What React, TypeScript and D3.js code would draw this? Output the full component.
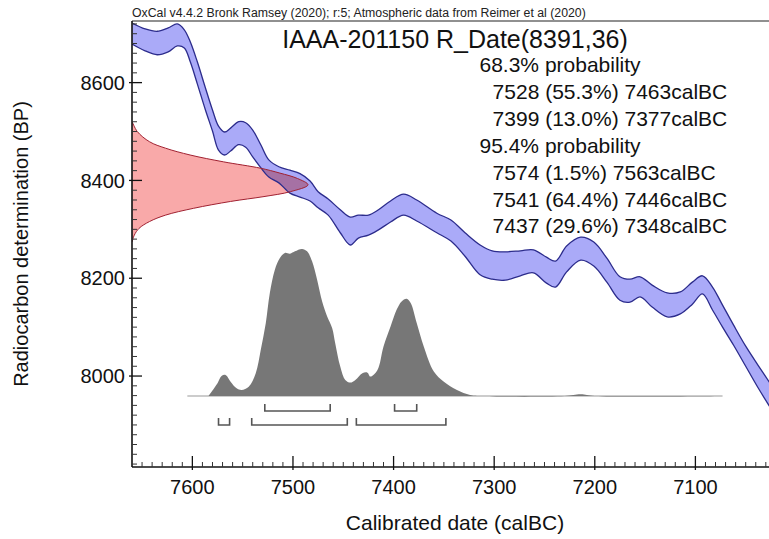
import React from 'react';
import * as d3 from 'd3';

// ---- data ----
const calBC = [7660, 7647, 7635, 7624, 7615, 7608, 7602, 7595, 7587, 7580, 7574, 7568, 7562, 7554, 7547, 7540, 7532, 7524, 7514, 7503, 7493, 7483, 7475, 7465, 7453, 7443, 7435, 7425, 7415, 7403, 7390, 7377, 7357, 7343, 7329, 7314, 7302, 7289, 7274, 7261, 7248, 7239, 7228, 7214, 7201, 7188, 7175, 7165, 7155, 7143, 7128, 7115, 7103, 7093, 7083, 7073, 7062, 7050, 7038, 7026];
const bandUpperBP = [8722, 8710, 8705, 8712, 8720, 8708, 8683, 8642, 8589, 8544, 8511, 8499, 8507, 8520, 8518, 8503, 8473, 8442, 8428, 8421, 8414, 8399, 8377, 8362, 8340, 8325, 8329, 8329, 8340, 8358, 8372, 8360, 8333, 8319, 8293, 8268, 8256, 8254, 8256, 8258, 8243, 8235, 8266, 8284, 8274, 8241, 8203, 8198, 8203, 8186, 8170, 8172, 8192, 8205, 8182, 8145, 8104, 8061, 8023, 7986];
const bandLowerBP = [8679, 8665, 8657, 8663, 8675, 8671, 8642, 8597, 8544, 8501, 8462, 8452, 8460, 8473, 8468, 8448, 8426, 8407, 8395, 8374, 8366, 8358, 8344, 8329, 8293, 8268, 8282, 8288, 8299, 8315, 8329, 8317, 8293, 8276, 8245, 8207, 8198, 8196, 8205, 8211, 8190, 8182, 8213, 8237, 8225, 8192, 8155, 8151, 8162, 8141, 8121, 8127, 8147, 8168, 8135, 8100, 8063, 8020, 7977, 7937];

const likelihoodBP = [8521, 8500, 8479, 8466, 8452, 8438, 8425, 8415, 8404, 8391, 8377, 8367, 8357, 8343, 8329, 8316, 8302, 8288, 8274];
const likelihoodDensity = [0, 0.03, 0.1, 0.19, 0.33, 0.52, 0.73, 0.84, 0.94, 1.0, 0.9, 0.75, 0.56, 0.35, 0.19, 0.1, 0.04, 0.013, 0];

const posteriorCalBC = [7584, 7575, 7571, 7567, 7562, 7556, 7551, 7544, 7537, 7532, 7527, 7523, 7518, 7513, 7508, 7503, 7498, 7491, 7486, 7481, 7476, 7471, 7466, 7461, 7458, 7453, 7448, 7443, 7438, 7431, 7426, 7423, 7416, 7410, 7403, 7397, 7392, 7387, 7383, 7377, 7370, 7360, 7350, 7337, 7324, 7314, 7230, 7214, 7200, 7073];
const posteriorProb = [0, 0.087, 0.136, 0.143, 0.097, 0.052, 0.041, 0.063, 0.155, 0.314, 0.496, 0.7, 0.859, 0.939, 0.973, 0.968, 0.984, 1.0, 0.984, 0.916, 0.791, 0.643, 0.541, 0.461, 0.359, 0.2, 0.109, 0.091, 0.109, 0.155, 0.159, 0.132, 0.177, 0.336, 0.472, 0.586, 0.643, 0.661, 0.632, 0.496, 0.336, 0.166, 0.097, 0.041, 0.007, 0, 0, 0.012, 0, 0];
const posteriorSpan = [7605, 7073];

const range68 = [[7528, 7463], [7399, 7377]];
const range95 = [[7574, 7563], [7541, 7446], [7437, 7348]];

const xMajorTicks = [7600, 7500, 7400, 7300, 7200, 7100];
const yMajorTicks = [8000, 8200, 8400, 8600];

const headerText = 'OxCal v4.4.2 Bronk Ramsey (2020); r:5; Atmospheric data from Reimer et al (2020)';
const titleText = 'IAAA-201150 R_Date(8391,36)';
const summaryLines = [
  '68.3% probability',
  '7528 (55.3%) 7463calBC',
  '7399 (13.0%) 7377calBC',
  '95.4% probability',
  '7574 (1.5%) 7563calBC',
  '7541 (64.4%) 7446calBC',
  '7437 (29.6%) 7348calBC',
];
const summaryIndented = [false, true, true, false, true, true, true];
const xAxisTitle = 'Calibrated date (calBC)';
const yAxisTitle = 'Radiocarbon determination (BP)';

// ---- layout ----
const W = 769;
const H = 539;
const L = 132;
const T = 21;
const B = 467;
const R = 796;
const FONT = '"Liberation Sans", Arial, Helvetica, sans-serif';

export default function App() {
  const x = d3.scaleLinear().domain([7660, 7000]).range([L, R]);
  const y = d3.scaleLinear().domain([7814, 8726]).range([B, T]);
  const yProb = d3.scaleLinear().domain([0, 1]).range([396, 249]);
  const xDens = d3.scaleLinear().domain([0, 1]).range([L, 308]);

  const band = calBC.map((c, i) => ({ c, hi: bandUpperBP[i], lo: bandLowerBP[i] }));
  const curve = d3.curveCatmullRom.alpha(0.5);
  const bandArea = d3
    .area<any>()
    .x((d) => x(d.c))
    .y0((d) => y(d.lo))
    .y1((d) => y(d.hi))
    .curve(curve);
  const upperLine = d3.line<any>().x((d) => x(d.c)).y((d) => y(d.hi)).curve(curve);
  const lowerLine = d3.line<any>().x((d) => x(d.c)).y((d) => y(d.lo)).curve(curve);

  const lik = likelihoodBP.map((b, i) => ({ b, d: likelihoodDensity[i] }));
  const likArea = d3
    .area<any>()
    .y((d) => y(d.b))
    .x0(xDens(0))
    .x1((d) => xDens(d.d))
    .curve(curve);
  const likLine = d3.line<any>().y((d) => y(d.b)).x((d) => xDens(d.d)).curve(curve);

  const post = posteriorCalBC.map((c, i) => ({ c, p: posteriorProb[i] }));
  const postArea = d3
    .area<any>()
    .x((d) => x(d.c))
    .y0(yProb(0))
    .y1((d) => yProb(d.p))
    .curve(d3.curveMonotoneY === undefined ? curve : curve);

  const xMinor = d3.range(7650, 7000, -10).filter((v) => v % 100 !== 0);
  const yMinor = d3.range(7820, 8726, 20).filter((v) => v % 200 !== 0);

  const bracket = (r: number[], yy: number, key: string) => {
    const x0 = x(r[0]);
    const x1 = x(r[1]);
    return (
      <path
        key={key}
        d={`M${x0},${yy - 7}V${yy}H${x1}V${yy - 7}`}
        fill="none"
        stroke="#555"
        strokeWidth={1.6}
      />
    );
  };

  return (
    <svg
      width={W}
      height={H}
      viewBox={`0 0 ${W} ${H}`}
      style={{ position: 'absolute', left: 0, top: 0, background: '#fff' }}
      fontFamily={FONT}
    >
      <defs>
        <clipPath id="plot">
          <rect x={L} y={T} width={R - L} height={B - T} />
        </clipPath>
      </defs>

      {/* header */}
      <text x={L} y={17} fontSize={12.3} fill="#222">
        {headerText}
      </text>

      <g clipPath="url(#plot)">
        {/* posterior */}
        <line
          x1={x(posteriorSpan[0])}
          x2={x(posteriorSpan[1])}
          y1={yProb(0)}
          y2={yProb(0)}
          stroke="#9a9a9a"
          strokeWidth={1.2}
        />
        <path d={postArea(post) || ''} fill="#777" />

        {/* likelihood */}
        <path d={likArea(lik) || ''} fill="#f9a9a9" />

        {/* calibration band */}
        <path d={bandArea(band) || ''} fill="#aaaaf8" style={{ mixBlendMode: 'multiply' }} />
        <path d={upperLine(band) || ''} fill="none" stroke="#2c2c8c" strokeWidth={1.3} />
        <path d={lowerLine(band) || ''} fill="none" stroke="#2c2c8c" strokeWidth={1.3} />

        <path d={likLine(lik) || ''} fill="none" stroke="#a02030" strokeWidth={1} />
      </g>

      {/* ranges */}
      {range68.map((r, i) => bracket(r, 411, `a${i}`))}
      {range95.map((r, i) => bracket(r, 425, `b${i}`))}

      {/* frame */}
      <line x1={L} x2={W} y1={T} y2={T} stroke="#222" strokeWidth={1.2} />
      <line x1={L} x2={L} y1={T} y2={B} stroke="#111" strokeWidth={1.6} />
      <line x1={L} x2={W} y1={B} y2={B} stroke="#111" strokeWidth={1.6} />

      {/* x ticks */}
      {xMinor.map((v) => (
        <line key={`xm${v}`} x1={x(v)} x2={x(v)} y1={B} y2={B - 5} stroke="#333" strokeWidth={1} />
      ))}
      {xMajorTicks.map((v) => (
        <g key={`xM${v}`}>
          <line x1={x(v)} x2={x(v)} y1={B + 3} y2={B - 11} stroke="#111" strokeWidth={1.3} />
          <text x={x(v)} y={494} textAnchor="middle" fontSize={20} fill="#111">
            {v}
          </text>
        </g>
      ))}

      {/* y ticks */}
      {yMinor.map((v) => (
        <line key={`ym${v}`} x1={L} x2={L + 5} y1={y(v)} y2={y(v)} stroke="#333" strokeWidth={1} />
      ))}
      {yMajorTicks.map((v) => (
        <g key={`yM${v}`}>
          <line x1={L - 3} x2={L + 10} y1={y(v)} y2={y(v)} stroke="#111" strokeWidth={1.3} />
          <text x={125} y={y(v)} dy="0.36em" textAnchor="end" fontSize={20} fill="#111">
            {v}
          </text>
        </g>
      ))}

      {/* titles */}
      <text x={455} y={48} textAnchor="middle" fontSize={25} fill="#111">
        {titleText}
      </text>
      {summaryLines.map((s, i) => (
        <text
          key={s}
          x={summaryIndented[i] ? 492.6 : 479.5}
          y={72 + i * 26.9}
          fontSize={21}
          fill="#111"
        >
          {s}
        </text>
      ))}

      <text x={455} y={530} textAnchor="middle" fontSize={21} fill="#111">
        {xAxisTitle}
      </text>
      <text
        transform={`translate(28,${(T + B) / 2}) rotate(-90)`}
        textAnchor="middle"
        fontSize={20}
        fill="#111"
      >
        {yAxisTitle}
      </text>
    </svg>
  );
}
